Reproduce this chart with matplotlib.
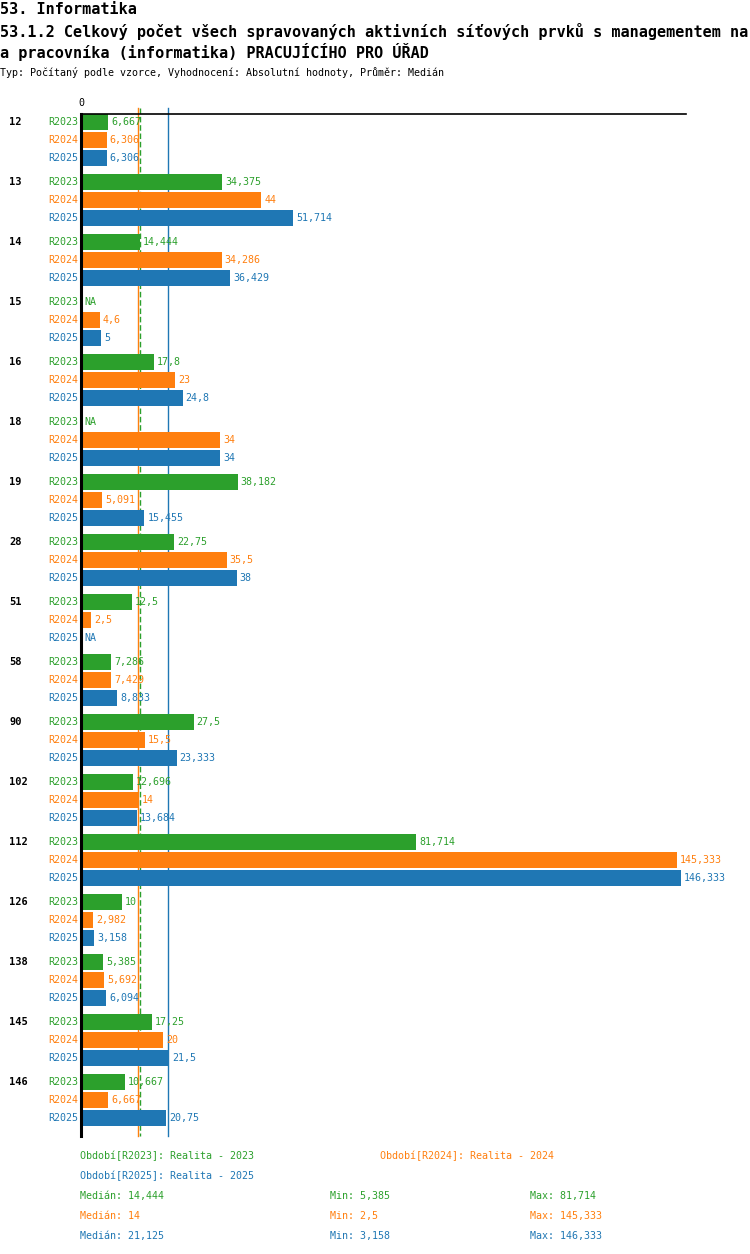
import matplotlib
matplotlib.use("Agg")
import matplotlib.pyplot as plt
import numpy as np

plt.rcParams['font.family'] = ['DejaVu Sans Mono']

categories = ["12", "13", "14", "15", "16", "18", "19", "28", "51", "58",
              "90", "102", "112", "126", "138", "145", "146"]
series_names = ["R2023", "R2024", "R2025"]
r2023 = [6.667, 34.375, 14.444, None, 17.8, None, 38.182, 22.75, 12.5, 7.286,
         27.5, 12.696, 81.714, 10, 5.385, 17.25, 10.667]
r2024 = [6.306, 44, 34.286, 4.6, 23, 34, 5.091, 35.5, 2.5, 7.429,
         15.5, 14, 145.333, 2.982, 5.692, 20, 6.667]
r2025 = [6.306, 51.714, 36.429, 5, 24.8, 34, 15.455, 38, None, 8.833,
         23.333, 13.684, 146.333, 3.158, 6.094, 21.5, 20.75]
medians = [14.444, 14, 21.125]
mins = [5.385, 2.5, 3.158]
maxs = [81.714, 145.333, 146.333]
legend_labels = ["Období[R2023]: Realita - 2023",
                 "Období[R2024]: Realita - 2024",
                 "Období[R2025]: Realita - 2025"]
colors = ["#2ca02c", "#ff7f0e", "#1f77b4"]

W, H = 750, 1254
fig = plt.figure(figsize=(W / 100, H / 100), dpi=100)

def fx(px):
    return px / W

def fy(py):
    return 1 - py / H

def fmt(v):
    s = f"{v:.3f}".rstrip('0').rstrip('.')
    return s.replace('.', ',')

# Header
hs = 10.9
fig.text(fx(0), fy(9), "53. Informatika", fontsize=hs, fontweight='bold', va='center', ha='left')
fig.text(fx(0), fy(31), "53.1.2 Celkový počet všech spravovaných aktivních síťových prvků s managementem na",
         fontsize=hs, fontweight='bold', va='center', ha='left')
fig.text(fx(0), fy(52), "a pracovníka (informatika) PRACUJÍCÍHO PRO ÚŘAD",
         fontsize=hs, fontweight='bold', va='center', ha='left')
fig.text(fx(0), fy(73), "Typ: Počítaný podle vzorce, Vyhodnocení: Absolutní hodnoty, Průměr: Medián",
         fontsize=7.2, va='center', ha='left')

left_px, right_px, top_px, bot_px = 81, 686, 114, 1136
ax = fig.add_axes([fx(left_px), fy(bot_px), (right_px - left_px) / W, (bot_px - top_px) / H])
ax.set_xlim(0, 147.6)
ax.set_ylim(bot_px - top_px, 0)
for s in ["right", "bottom"]:
    ax.spines[s].set_visible(False)
ax.spines["left"].set_linewidth(2.2)
ax.spines["left"].set_zorder(6)
ax.spines["top"].set_linewidth(1.2)
ax.spines["top"].set_zorder(6)
ax.set_xticks([])
ax.set_yticks([])
ax.patch.set_alpha(0)

all_series = [r2023, r2024, r2025]
group_step = 60
row_step = 18
first = 8

for gi, cat in enumerate(categories):
    y0 = first + gi * group_step
    ax.annotate(cat, xy=(0, y0), xytext=(-72, 0), textcoords='offset pixels',
                ha='left', va='center', fontsize=7.5, fontweight='bold', annotation_clip=False)
    for si, ser in enumerate(all_series):
        y = y0 + si * row_step
        v = ser[gi]
        ax.annotate(series_names[si], xy=(0, y), xytext=(-3, 0), textcoords='offset pixels',
                    ha='right', va='center', fontsize=7.2, color=colors[si], annotation_clip=False)
        if v is None:
            ax.annotate("NA", xy=(0, y), xytext=(3, 0), textcoords='offset pixels',
                        ha='left', va='center', fontsize=7.2, color=colors[si], annotation_clip=False)
        else:
            ax.barh(y, v, height=16, color=colors[si], left=0, zorder=3)
            ax.annotate(fmt(v), xy=(v, y), xytext=(3, 0), textcoords='offset pixels',
                        ha='left', va='center', fontsize=7.2, color=colors[si], annotation_clip=False,
                        zorder=4)

# Median lines (behind bars)
ax.plot([medians[1]] * 2, [-6, bot_px - top_px], color=colors[1], lw=1, clip_on=False, zorder=1)
ax.plot([medians[0]] * 2, [-6, bot_px - top_px], color=colors[0], lw=1, ls=(0, (4, 2)), clip_on=False, zorder=1)
ax.plot([medians[2]] * 2, [-6, bot_px - top_px], color=colors[2], lw=1, clip_on=False, zorder=1)

ax.text(0, -11, "0", ha='center', va='center', fontsize=7.2)

# Legend
fig.text(fx(80), fy(1156), legend_labels[0], color=colors[0], fontsize=7.2, va='center')
fig.text(fx(380), fy(1156), legend_labels[1], color=colors[1], fontsize=7.2, va='center')
fig.text(fx(80), fy(1176), legend_labels[2], color=colors[2], fontsize=7.2, va='center')
for i in range(3):
    yy = 1196 + 20 * i
    fig.text(fx(80), fy(yy), "Medián: " + fmt(medians[i]), color=colors[i], fontsize=7.2, va='center')
    fig.text(fx(330), fy(yy), "Min: " + fmt(mins[i]), color=colors[i], fontsize=7.2, va='center')
    fig.text(fx(530), fy(yy), "Max: " + fmt(maxs[i]), color=colors[i], fontsize=7.2, va='center')

fig.savefig("out.png", dpi=100)
